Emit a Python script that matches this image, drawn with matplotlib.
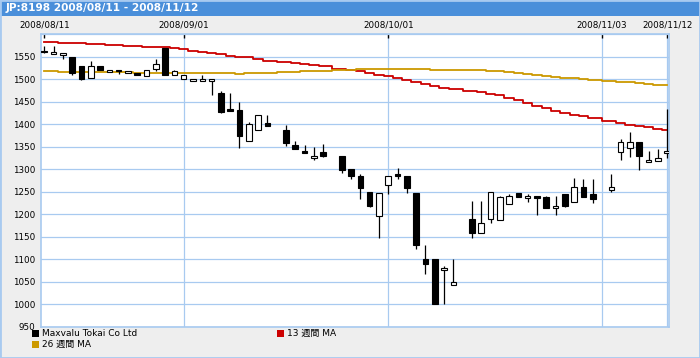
import numpy as np
import matplotlib.pyplot as plt
from matplotlib.patches import Rectangle

plt.rcParams['font.family'] = ['DejaVu Sans', 'Noto Sans CJK JP']

# --- data ---
title = 'JP:8198 2008/08/11 - 2008/11/12'
start = '2008-08-11'

dates = ['2008-08-11', '2008-08-12', '2008-08-13', '2008-08-14', '2008-08-15',
         '2008-08-18', '2008-08-19', '2008-08-20', '2008-08-21', '2008-08-22',
         '2008-08-25', '2008-08-26', '2008-08-27', '2008-08-28', '2008-08-29',
         '2008-09-01', '2008-09-02', '2008-09-03', '2008-09-04', '2008-09-05',
         '2008-09-08', '2008-09-09', '2008-09-10', '2008-09-11', '2008-09-12',
         '2008-09-16', '2008-09-17', '2008-09-18', '2008-09-19', '2008-09-22',
         '2008-09-24', '2008-09-25', '2008-09-26', '2008-09-29', '2008-09-30',
         '2008-10-01', '2008-10-02', '2008-10-03', '2008-10-06', '2008-10-07',
         '2008-10-08', '2008-10-09', '2008-10-10', '2008-10-14', '2008-10-15',
         '2008-10-16', '2008-10-17', '2008-10-20', '2008-10-21', '2008-10-22',
         '2008-10-23', '2008-10-24', '2008-10-27', '2008-10-28', '2008-10-29',
         '2008-10-30', '2008-10-31', '2008-11-04', '2008-11-05', '2008-11-06',
         '2008-11-07', '2008-11-10', '2008-11-11', '2008-11-12']

opens = [1562, 1555, 1553, 1550, 1530, 1502, 1530, 1516, 1520, 1513,
         1514, 1507, 1522, 1570, 1509, 1500, 1495, 1496, 1496, 1469,
         1434, 1432, 1362, 1387, 1403, 1387, 1354, 1341, 1324, 1338,
         1330, 1301, 1285, 1250, 1197, 1264, 1290, 1285, 1248, 1101,
         1101, 1076, 1044, 1189, 1158, 1189, 1187, 1222, 1247, 1236,
         1240, 1238, 1213, 1245, 1228, 1260, 1244, 1255, 1338, 1347,
         1360, 1316, 1318, 1336]
highs = [1574, 1574, 1558, 1550, 1530, 1541, 1530, 1520, 1521, 1518,
         1514, 1520, 1545, 1570, 1521, 1509, 1500, 1509, 1500, 1474,
         1470, 1450, 1404, 1420, 1421, 1398, 1363, 1354, 1350, 1356,
         1330, 1301, 1290, 1250, 1247, 1285, 1303, 1285, 1248, 1131,
         1101, 1085, 1101, 1230, 1230, 1249, 1241, 1245, 1247, 1245,
         1240, 1240, 1240, 1245, 1281, 1278, 1279, 1290, 1367, 1382,
         1360, 1341, 1345, 1434]
lows = [1558, 1555, 1544, 1508, 1498, 1502, 1520, 1516, 1512, 1513,
        1509, 1507, 1519, 1510, 1509, 1500, 1495, 1496, 1464, 1424,
        1430, 1348, 1362, 1387, 1395, 1352, 1344, 1335, 1321, 1328,
        1292, 1279, 1235, 1217, 1148, 1246, 1279, 1248, 1122, 1068,
        1000, 1000, 1044, 1148, 1158, 1180, 1187, 1222, 1239, 1228,
        1199, 1215, 1199, 1217, 1228, 1239, 1224, 1250, 1321, 1328,
        1299, 1316, 1318, 1324]
closes = [1560, 1560, 1558, 1513, 1501, 1530, 1520, 1520, 1517, 1518,
          1509, 1520, 1534, 1510, 1518, 1509, 1500, 1500, 1500, 1428,
          1430, 1373, 1400, 1420, 1397, 1359, 1344, 1335, 1330, 1330,
          1298, 1284, 1259, 1218, 1247, 1285, 1284, 1259, 1132, 1089,
          1000, 1081, 1049, 1158, 1180, 1249, 1238, 1240, 1239, 1240,
          1237, 1215, 1218, 1219, 1260, 1239, 1234, 1261, 1360, 1360,
          1329, 1320, 1325, 1340]

ma13 = [1583, 1583, 1581, 1581, 1581, 1578, 1578, 1576, 1576, 1574,
        1574, 1571, 1571, 1571, 1569, 1566, 1563, 1560, 1558, 1555,
        1552, 1550, 1548, 1545, 1541, 1537, 1535, 1533, 1531, 1528,
        1522, 1520, 1517, 1513, 1510, 1507, 1503, 1499, 1494, 1490,
        1485, 1481, 1478, 1474, 1471, 1468, 1464, 1458, 1453, 1446,
        1441, 1436, 1430, 1424, 1421, 1417, 1414, 1406, 1403, 1399,
        1396, 1393, 1389, 1387]
ma26 = [1518, 1518, 1515, 1515, 1515, 1515, 1515, 1515, 1515, 1515,
        1514, 1514, 1514, 1514, 1514, 1513, 1513, 1513, 1513, 1513,
        1513, 1511, 1513, 1513, 1513, 1516, 1516, 1518, 1518, 1518,
        1520, 1520, 1522, 1522, 1522, 1522, 1522, 1522, 1522, 1522,
        1520, 1520, 1520, 1520, 1520, 1518, 1518, 1516, 1513, 1511,
        1509, 1507, 1505, 1502, 1502, 1500, 1498, 1496, 1493, 1493,
        1491, 1489, 1486, 1486]

tick_dates = ['2008-08-11', '2008-09-01', '2008-10-01', '2008-11-03', '2008-11-12']
tick_labels = ['2008/08/11', '2008/09/01', '2008/10/01', '2008/11/03', '2008/11/12']
y_ticks = [950, 1000, 1050, 1100, 1150, 1200, 1250, 1300, 1350, 1400, 1450, 1500, 1550, 1600]
y_labels = ['950', '1000', '1050', '1100', '1150', '1200', '1250', '1300',
            '1350', '1400', '1450', '1500', '1550', '']

series_name = 'Maxvalu Tokai Co Ltd'
ma13_name = '13 週間 MA'
ma26_name = '26 週間 MA'

# colours
bg = '#EEEEEE'
bar_blue = '#4A8FDA'
line_blue = '#A8CAF0'
red = '#CC0000'
gold = '#CC9900'

W, H = 700, 358
fig = plt.figure(figsize=(W / 100, H / 100), dpi=100, facecolor=bg)


def fx(px):
    return px / W


def fy(py):
    return 1 - py / H


# title bar and outer frame
fig.patches.append(Rectangle((0, fy(16)), 1, 16 / H, transform=fig.transFigure,
                             facecolor=bar_blue, edgecolor='none', zorder=0))
fig.patches.append(Rectangle((0, 0), 1, 1, transform=fig.transFigure,
                             fill=False, edgecolor=line_blue, lw=2.0, zorder=1))
fig.text(fx(6), fy(8), title, color='white', fontsize=7.6, fontweight='bold',
         va='center', ha='left')

ax = fig.add_axes([fx(41), fy(327), fx(669) - fx(41), fy(34) - fy(327)])
ax.set_facecolor('white')

x = np.busday_count(start, dates)
o = np.array(opens)
c = np.array(closes)
up = c >= o

ax.step(x, ma13, where='mid', color=red, lw=1.3, zorder=2)
ax.step(x, ma26, where='mid', color=gold, lw=1.3, zorder=2)

ax.vlines(x, lows, highs, color='black', lw=0.9, zorder=3)
ax.bar(x, np.abs(c - o), bottom=np.minimum(o, c), width=0.6,
       color=np.where(up, 'white', 'black'), edgecolor='black', lw=0.8, zorder=4)

ax.set_xlim(-0.35, 67.2)
ax.set_ylim(950, 1600)

ax.set_yticks(y_ticks)
ax.set_yticklabels(y_labels)
ax.xaxis.tick_top()
ax.set_xticks(np.busday_count(start, tick_dates))
ax.set_xticklabels(tick_labels)
ax.tick_params(axis='x', direction='in', length=3, width=1, color='black',
               labelsize=6.3, pad=3)
ax.tick_params(axis='y', length=0, labelsize=6.3, pad=4)

ax.grid(True, color=line_blue, lw=0.9)
ax.get_xgridlines()[0].set_visible(False)
ax.set_axisbelow(True)
for s in ax.spines.values():
    s.set_color(line_blue)
    s.set_linewidth(1.2)

# legend
legend_items = [(series_name, 'black', 32, 333),
                (ma13_name, red, 277, 333),
                (ma26_name, gold, 32, 344)]
for name, col, px, py in legend_items:
    fig.patches.append(Rectangle((fx(px), fy(py + 3.5)), 6.5 / W, 7 / H,
                                 transform=fig.transFigure, facecolor=col,
                                 edgecolor='none'))
    fig.text(fx(px + 10), fy(py), name, fontsize=6.5, va='center', ha='left')

fig.savefig('out.png', dpi=100, facecolor=bg)
